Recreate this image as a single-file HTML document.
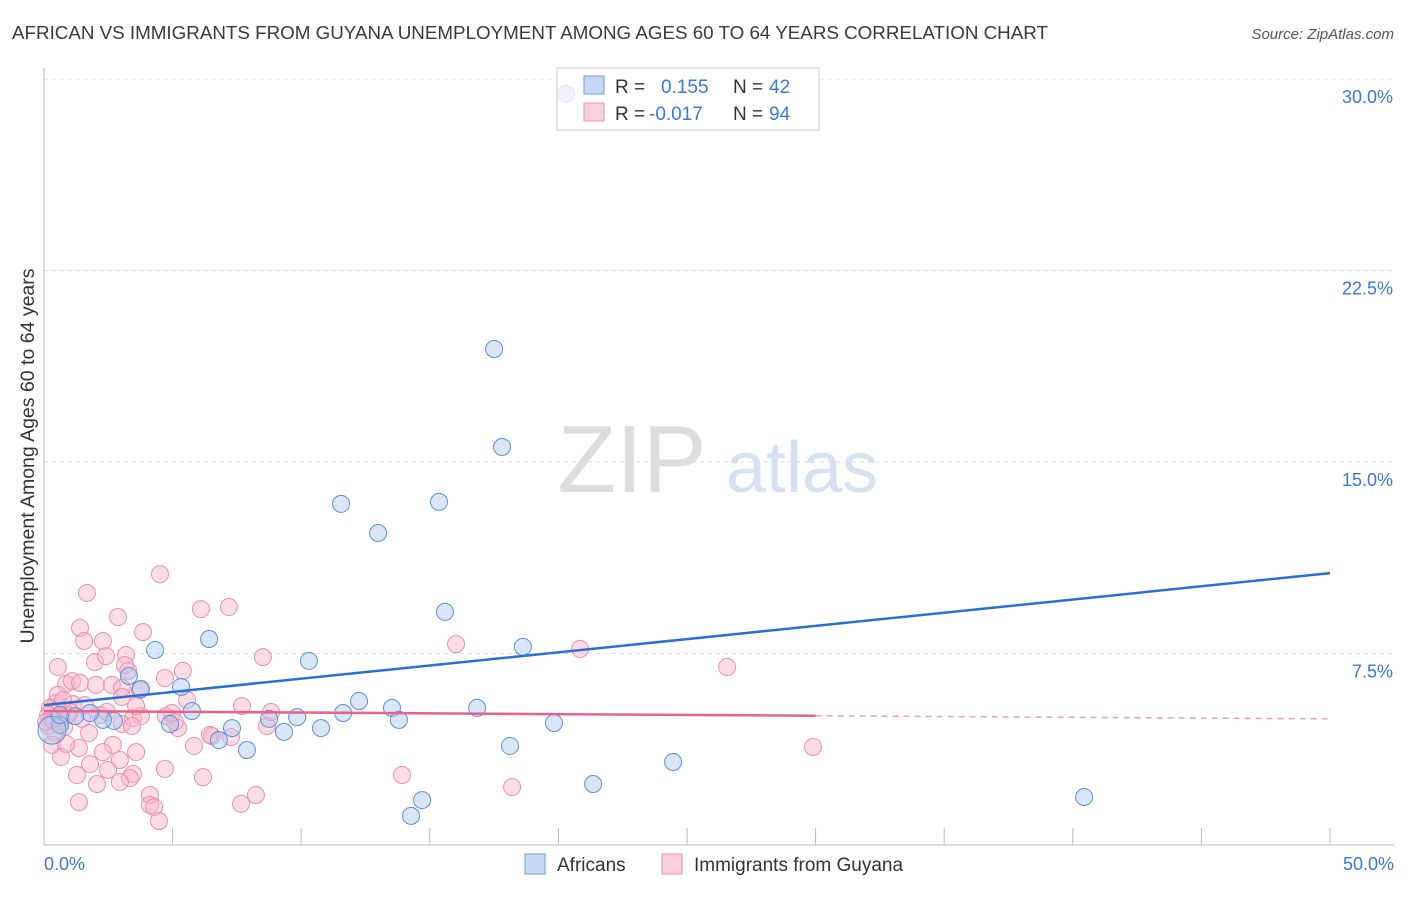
<!DOCTYPE html>
<html><head><meta charset="utf-8"><style>
body{margin:0;background:#fff;font-family:"Liberation Sans",sans-serif}
svg text{font-family:"Liberation Sans",sans-serif}
</style></head><body>
<svg id="chart" width="1406" height="892" xmlns="http://www.w3.org/2000/svg">
<text x="12" y="39" font-size="18.8" fill="#3a3a3a">AFRICAN VS IMMIGRANTS FROM GUYANA UNEMPLOYMENT AMONG AGES 60 TO 64 YEARS CORRELATION CHART</text>
<text x="1394" y="39" font-size="15" fill="#555" text-anchor="end" font-style="italic">Source: ZipAtlas.com</text>
<g>
<text x="632" y="492" font-size="96" fill="#ddd" text-anchor="middle" font-family="Liberation Serif">ZIP</text>
<text x="802" y="492" font-size="72" fill="#d6e2f3" text-anchor="middle">atlas</text>
</g>
<text transform="translate(34,456) rotate(-90)" font-size="19.5" fill="#333" text-anchor="middle">Unemployment Among Ages 60 to 64 years</text>
<g id="grid"></g><g id="axes"></g>
<g>
<rect x="557" y="68" width="262" height="62" fill="#fff" stroke="#ccc"/>
<rect x="584" y="76" width="20" height="18" fill="#c5d9f5" stroke="#6d9fe0"/>
<rect x="584" y="103" width="20" height="18" fill="#fbd0dc" stroke="#ee8fac"/>
<text x="615" y="93" font-size="19" fill="#333">R = </text><text x="661" y="93" font-size="19" fill="#3a78d8">0.155</text>
<text x="733" y="93" font-size="19" fill="#333">N = </text><text x="769" y="93" font-size="19" fill="#3a78d8">42</text>
<text x="615" y="120" font-size="19" fill="#333">R = </text><text x="649" y="120" font-size="19" fill="#3a78d8">-0.017</text>
<text x="733" y="120" font-size="19" fill="#333">N = </text><text x="769" y="120" font-size="19" fill="#3a78d8">94</text>
</g>
<g id="marks"></g>
<g>
<rect x="525" y="854" width="20" height="20" fill="#c5d9f5" stroke="#6d9fe0"/>
<text x="557" y="871" font-size="19" fill="#333">Africans</text>
<rect x="662" y="854" width="20" height="20" fill="#fbd0dc" stroke="#ee8fac"/>
<text x="694" y="871" font-size="19" fill="#333">Immigrants from Guyana</text>
</g>
</svg>
<script>
const yTicks=[7.5,15,22.5,30];
const yTickLabels=["7.5%","15.0%","22.5%","30.0%"];
const xTicks=[5,10,15,20,25,30,35,40,45,50];
const xEndLabels=["0.0%","50.0%"];
const afrX=[17.50,17.81,11.55,15.36,12.99,15.59,6.42,4.32,10.30,18.62,3.77,5.33,3.30,12.25,13.53,16.84,11.63,9.84,8.75,5.75,13.80,7.31,9.33,10.77,4.90,2.72,2.29,1.79,1.21,0.62,7.89,6.80,18.12,19.83,24.46,21.35,14.70,14.27,40.44,20.30,0.31,0.62];
const afrY=[19.43,15.59,13.36,13.44,12.22,9.13,8.07,7.64,7.21,7.76,6.11,6.19,6.62,5.64,5.37,5.37,5.17,5.01,4.94,5.25,4.90,4.58,4.43,4.58,4.74,4.86,4.90,5.17,5.05,4.70,3.72,4.11,3.88,4.78,3.25,2.39,1.76,1.14,1.88,29.42,4.50,5.09];
const guyX=[4.51,7.19,6.10,1.67,2.88,1.40,3.85,2.29,1.56,0.54,1.98,3.27,2.41,5.40,4.70,8.51,16.02,20.84,26.56,3.19,0.86,1.09,1.40,2.02,2.64,3.03,3.03,7.70,1.13,0.54,0.27,0.78,0.16,0.43,2.18,3.46,3.77,4.74,4.98,5.21,6.53,7.27,8.67,0.66,1.36,2.68,3.58,5.83,1.75,1.48,1.28,2.95,3.46,4.70,6.18,2.06,3.34,2.95,4.12,4.12,4.28,4.47,1.36,7.66,8.24,13.92,18.20,29.90,0.70,1.01,0.47,0.23,0.16,0.35,0.93,1.59,2.45,0.31,0.86,0.54,3.03,3.42,5.56,5.09,6.45,8.83,1.79,2.29,3.15,3.58,3.73,2.49,0.74,0.08];
const guyY=[10.61,9.32,9.24,9.87,8.93,8.50,8.34,7.99,7.99,6.97,7.17,6.82,7.40,6.82,6.54,7.36,7.87,7.68,6.97,7.44,6.31,6.42,6.35,6.27,6.27,6.15,5.80,5.44,5.52,5.21,4.94,4.62,4.66,4.39,5.09,4.97,5.05,5.05,5.17,4.58,4.27,4.23,4.66,3.45,3.80,3.92,3.64,3.88,4.39,4.94,2.74,3.33,2.78,2.98,2.66,2.39,2.62,2.47,1.96,1.57,1.49,0.94,1.68,1.61,1.96,2.74,2.27,3.84,4.97,5.21,5.56,5.37,5.09,4.90,5.09,5.48,5.21,3.92,3.96,5.88,4.74,4.66,5.68,4.82,4.31,5.21,3.17,3.64,7.05,5.44,6.07,2.94,5.68,4.82];
const afrTrend=[5.48,10.65];
const guyTrend=[5.25,4.94];
const guySolidEnd=30;
const NS="http://www.w3.org/2000/svg";
const X=v=>44+v*25.72, Y=v=>845-v*25.53;
function mk(p,t,a){const e=document.createElementNS(NS,t);for(const k in a)e.setAttribute(k,a[k]);p.appendChild(e);return e;}
const grid=document.getElementById('grid'),axes=document.getElementById('axes'),marks=document.getElementById('marks');
yTicks.forEach((t,i)=>{
 const l=mk(grid,'line',{x1:44,x2:1394,y1:Y(t),y2:Y(t),stroke:'#ddd','stroke-dasharray':'4,4'});
 
 
 const tx=mk(grid,'text',{x:1393,y:Y(t)+24,'font-size':18,fill:'#3a78d8','text-anchor':'end'});tx.textContent=yTickLabels[i];
 
 
});
const ya=mk(axes,'line',{x1:44,x2:44,y1:68,y2:845,stroke:'#bbb'});


const xa=mk(axes,'line',{x1:44,x2:1394,y1:845,y2:845,stroke:'#bbb'});


xTicks.forEach(t=>{const l=mk(axes,'line',{x1:X(t),x2:X(t),y1:828,y2:845,stroke:'#bbb'});
 
 });
[[0,'start',44],[50,'end',1394]].forEach((d,i)=>{const tx=mk(axes,'text',{x:d[2],y:870,'font-size':18,fill:'#3a78d8','text-anchor':d[1]});tx.textContent=xEndLabels[i];
 
 });
guyX.forEach((x,i)=>{const c=mk(marks,'circle',{cx:X(x),cy:Y(guyY[i]),r:8.5,fill:'rgba(248,180,200,0.45)',stroke:'#ec8fab','stroke-width':1});
 
 });
afrX.forEach((x,i)=>{const big=(i==40);const faint=(afrY[i]>25);const c=mk(marks,'circle',{cx:X(x),cy:Y(afrY[i]),r:big?14:8.5,fill:faint?'rgba(200,215,235,0.3)':'rgba(170,200,240,0.45)',stroke:faint?'#e0e6f0':'#5a90dc','stroke-width':1});
 
 });
const bl=mk(marks,'line',{x1:X(0),y1:Y(afrTrend[0]),x2:X(50),y2:Y(afrTrend[1]),stroke:'#2a6fd6','stroke-width':2.5});


const gm=guyTrend[0]+(guyTrend[1]-guyTrend[0])*guySolidEnd/50;
const pl=mk(marks,'line',{x1:X(0),y1:Y(guyTrend[0]),x2:X(guySolidEnd),y2:Y(gm),stroke:'#e8628a','stroke-width':2.5});


const pd=mk(marks,'line',{x1:X(guySolidEnd),y1:Y(gm),x2:X(50),y2:Y(guyTrend[1]),stroke:'#e8a0b5','stroke-width':1.5,'stroke-dasharray':'6,5'});


</script>
</body></html>
